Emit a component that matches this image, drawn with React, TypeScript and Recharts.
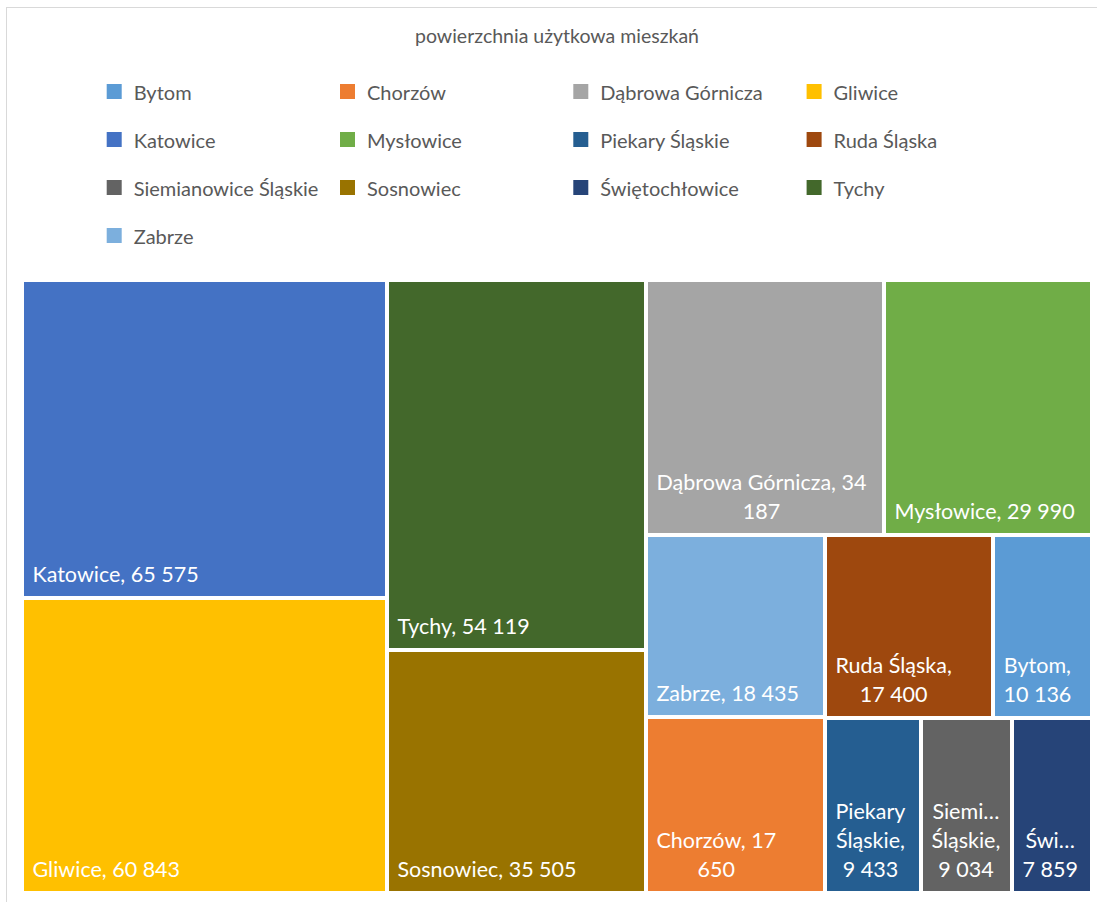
import React from 'react';
import { Treemap } from 'recharts';

// ---- data ----
const chartTitle = 'powierzchnia użytkowa mieszkań';
const cities = [
  'Bytom',
  'Chorzów',
  'Dąbrowa Górnicza',
  'Gliwice',
  'Katowice',
  'Mysłowice',
  'Piekary Śląskie',
  'Ruda Śląska',
  'Siemianowice Śląskie',
  'Sosnowiec',
  'Świętochłowice',
  'Tychy',
  'Zabrze',
];
const areas = [10136, 17650, 34187, 60843, 65575, 29990, 9433, 17400, 9034, 35505, 7859, 54119, 18435];
const colors = [
  '#5B9BD5',
  '#ED7D31',
  '#A5A5A5',
  '#FFC000',
  '#4472C4',
  '#70AD47',
  '#255E91',
  '#9E480E',
  '#636363',
  '#997300',
  '#264478',
  '#43682B',
  '#7CAFDD',
];

// ---- styles ----
const FONT_FAMILY = 'Lato';
const LABEL_FONT = `21.5px ${FONT_FAMILY}`;
const LEGEND_FONT = `20px ${FONT_FAMILY}`;
const TITLE_FONT = `19.5px ${FONT_FAMILY}`;
const TEXT_GREY = '#595959';
const GAP = 2;
const PAD_LEFT = 8.5;
const PAD_RIGHT = 10;
const LINE_H = 29;

type Leaf = { name: string; size: number; color: string };
const leaves: Leaf[] = cities
  .map((name, i) => ({ name, size: areas[i], color: colors[i] }))
  .sort((a, b) => b.size - a.size);

// the three smallest tiles are grouped so the squarified layout mirrors the reference
const treeData: any[] = [
  ...leaves.slice(0, 10),
  { name: 'grupa-1', children: [leaves[10], { name: 'grupa-2', children: leaves.slice(11) }] },
];

let ctx: CanvasRenderingContext2D | null = null;
function measure(t: string, font: string): number {
  if (!ctx) ctx = document.createElement('canvas').getContext('2d');
  if (!ctx) return t.length * 10;
  ctx.font = font;
  return ctx.measureText(t).width;
}

// width used for fitting: a trailing comma may hang past the margin
function fitWidth(t: string, font: string): number {
  return measure(t.replace(/,$/, ''), font);
}

function fmt(n: number): string {
  return String(n).replace(/\B(?=(\d{3})+(?!\d))/g, ' ');
}

function wrapLabel(text: string, maxW: number, font: string): string[] {
  const words = text.split(' ');
  const lines: string[] = [];
  let cur = '';
  for (const w of words) {
    const cand = cur ? cur + ' ' + w : w;
    if (fitWidth(cand, font) <= maxW) {
      cur = cand;
      continue;
    }
    if (cur) lines.push(cur);
    if (fitWidth(w, font) <= maxW) {
      cur = w;
    } else {
      let s = w;
      while (s.length > 1 && measure(s + '…', font) > maxW) s = s.slice(0, -1);
      lines.push(s + '…');
      cur = '';
    }
  }
  if (cur) lines.push(cur);
  return lines;
}

function renderTile(props: any) {
  const { x, y, width, height, children, name, color } = props;
  if ((children && children.length) || !color) return <g />;
  const value = props.size ?? props.value;
  const vx = x + GAP;
  const vy = y + GAP;
  const vw = width - 2 * GAP;
  const vh = height - 2 * GAP;
  const lines = wrapLabel(`${name}, ${fmt(value)}`, vw - PAD_LEFT - PAD_RIGHT, LABEL_FONT);
  const blockW = Math.max(...lines.map((l) => measure(l, LABEL_FONT)));
  const cx = vx + PAD_LEFT + blockW / 2;
  const lastBase = vy + vh - 14.5;
  return (
    <g>
      <rect x={vx} y={vy} width={vw} height={vh} fill={color} />
      {lines.map((l, i) => (
        <text
          key={i}
          x={cx}
          y={lastBase - (lines.length - 1 - i) * LINE_H}
          textAnchor="middle"
          fill="#ffffff"
          style={{ font: LABEL_FONT }}
        >
          {l}
        </text>
      ))}
    </g>
  );
}

export default function App() {
  return (
    <div
      style={{
        position: 'absolute',
        left: 0,
        top: 0,
        width: 1097,
        height: 902,
        overflow: 'hidden',
        background: '#ffffff',
        fontFamily: FONT_FAMILY,
      }}
    >
      <div
        style={{
          position: 'absolute',
          left: 6,
          top: 7,
          width: 1300,
          height: 1300,
          border: '1px solid #D9D9D9',
          boxSizing: 'border-box',
        }}
      />
      <svg width={1097} height={275} style={{ position: 'absolute', left: 0, top: 0 }}>
        <text x={557} y={43} textAnchor="middle" fill={TEXT_GREY} style={{ font: TITLE_FONT }}>
          {chartTitle}
        </text>
        {cities.map((c, i) => {
          const col = i % 4;
          const row = Math.floor(i / 4);
          const lx = 106.7 + col * 233.3;
          const cy = 91.5 + row * 48;
          return (
            <g key={c}>
              <rect x={lx} y={cy - 7.5} width={15} height={15} fill={colors[i]} />
              <text x={lx + 27} y={cy + 8.5} fill={TEXT_GREY} style={{ font: LEGEND_FONT }}>
                {c}
              </text>
            </g>
          );
        })}
      </svg>
      <div style={{ position: 'absolute', left: 22, top: 280 }}>
        <Treemap
          width={1070}
          height={613}
          data={treeData}
          dataKey="size"
          nameKey="name"
          aspectRatio={1.15}
          isAnimationActive={false}
          content={renderTile as any}
        />
      </div>
    </div>
  );
}
